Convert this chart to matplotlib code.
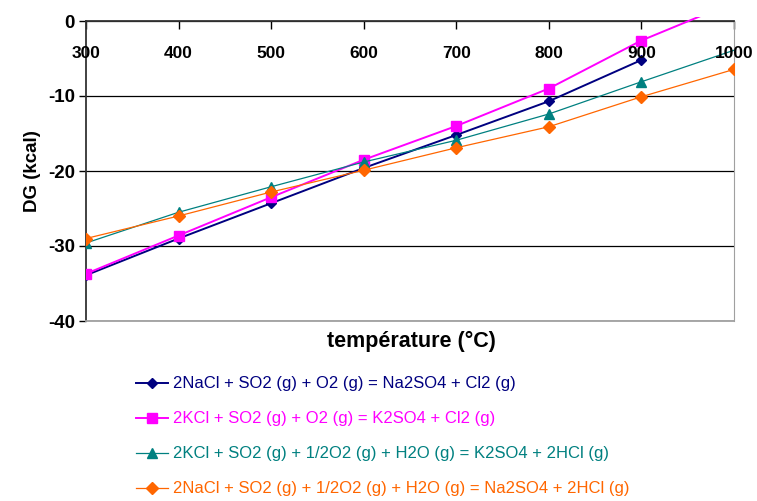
import matplotlib.pyplot as plt
from matplotlib.patches import Rectangle

# temperatures (°C) and DG (kcal)
temp = [300, 400, 500, 600, 700, 800, 900, 1000]
temp_nacl_o2 = [300, 400, 500, 600, 700, 800, 900]
dg_nacl_o2 = [-33.9, -29.0, -24.3, -19.6, -15.2, -10.7, -5.2]
dg_kcl_o2 = [-33.7, -28.6, -23.5, -18.5, -14.0, -9.0, -2.6, 2.5]
dg_kcl_h2o = [-29.6, -25.5, -22.1, -18.8, -15.9, -12.4, -8.1, -3.9]
dg_nacl_h2o = [-29.0, -26.0, -22.8, -19.9, -16.9, -14.1, -10.1, -6.45]

labels = [
    '2NaCl + SO2 (g) + O2 (g) = Na2SO4 + Cl2 (g)',
    '2KCl + SO2 (g) + O2 (g) = K2SO4 + Cl2 (g)',
    '2KCl + SO2 (g) + 1/2O2 (g) + H2O (g) = K2SO4 + 2HCl (g)',
    '2NaCl + SO2 (g) + 1/2O2 (g) + H2O (g) = Na2SO4 + 2HCl (g)',
]
y_ticks = [0, -10, -20, -30, -40]

plt.rcParams['font.family'] = ['Liberation Sans', 'DejaVu Sans']

fig = plt.figure(figsize=(7.57, 5.01), dpi=100)
ax = fig.add_axes([86 / 757, 1 - 321 / 501, (734 - 86) / 757, 300 / 501])

# (x, y, colour, marker, size, width, markevery) - teal marker at 1000 is hidden under the label
series = [
    (temp_nacl_o2, dg_nacl_o2, '#000080', 'D', 5.5, 1.4, None),
    (temp, dg_kcl_o2, '#ff00ff', 's', 6.5, 1.4, None),
    (temp, dg_kcl_h2o, '#008080', '^', 6.5, 0.9, list(range(7))),
    (temp, dg_nacl_h2o, '#ff6600', 'D', 6.0, 0.9, None),
]
# lines may poke a little above the plot area, like in the original
clip = Rectangle((0, 0), 1, 1 + 4 / 300, transform=ax.transAxes)
for (xs, ys, c, m, ms, lw, me), lab in zip(series, labels):
    ln, = ax.plot(xs, ys, color=c, marker=m, markersize=ms, linewidth=lw,
                  markevery=me, label=lab, zorder=3)
    ln.set_clip_path(clip)

ax.set_xlim(300, 1000)
ax.set_ylim(-40, 0)
ax.set_yticks(y_ticks)
ax.set_yticklabels([str(v) for v in y_ticks], fontsize=13.5, fontweight='bold')
ax.yaxis.grid(True, color='#000000', linewidth=0.9)
ax.tick_params(axis='y', direction='out', length=5, width=1, pad=3)

# x axis sits at DG = 0 (top), labels hang just under it, over the lines
ax.set_xticks(temp)
ax.tick_params(axis='x', top=True, bottom=False, labeltop=False, labelbottom=False,
               direction='in', length=6, width=1)
for t in temp:
    ax.text(t, 1 - 32.5 / 300, str(t), transform=ax.get_xaxis_transform(),
            ha='center', va='center', fontsize=12.5, fontweight='bold', zorder=6)

ax.spines['left'].set_color('#333333')
ax.spines['left'].set_linewidth(1.3)
ax.spines['top'].set_color('#333333')
ax.spines['top'].set_linewidth(1.3)
ax.spines['right'].set_color('#a0a0a0')
ax.spines['bottom'].set_color('#a0a0a0')
ax.spines['bottom'].set_linewidth(1.3)

ax.set_ylabel('DG (kcal)', fontsize=13.5, fontweight='bold', labelpad=5)
fig.text(411 / 757, 1 - 341 / 501, 'température (°C)', fontsize=15.5,
         fontweight='bold', ha='center', va='center')

fig.legend(loc='upper left', bbox_to_anchor=(128 / 757, 1 - 368 / 501),
           frameon=False, fontsize=12, labelcolor='linecolor', handlelength=1.9,
           handletextpad=0.3, labelspacing=1.2, borderpad=0)

fig.savefig('out.png', dpi=100)
